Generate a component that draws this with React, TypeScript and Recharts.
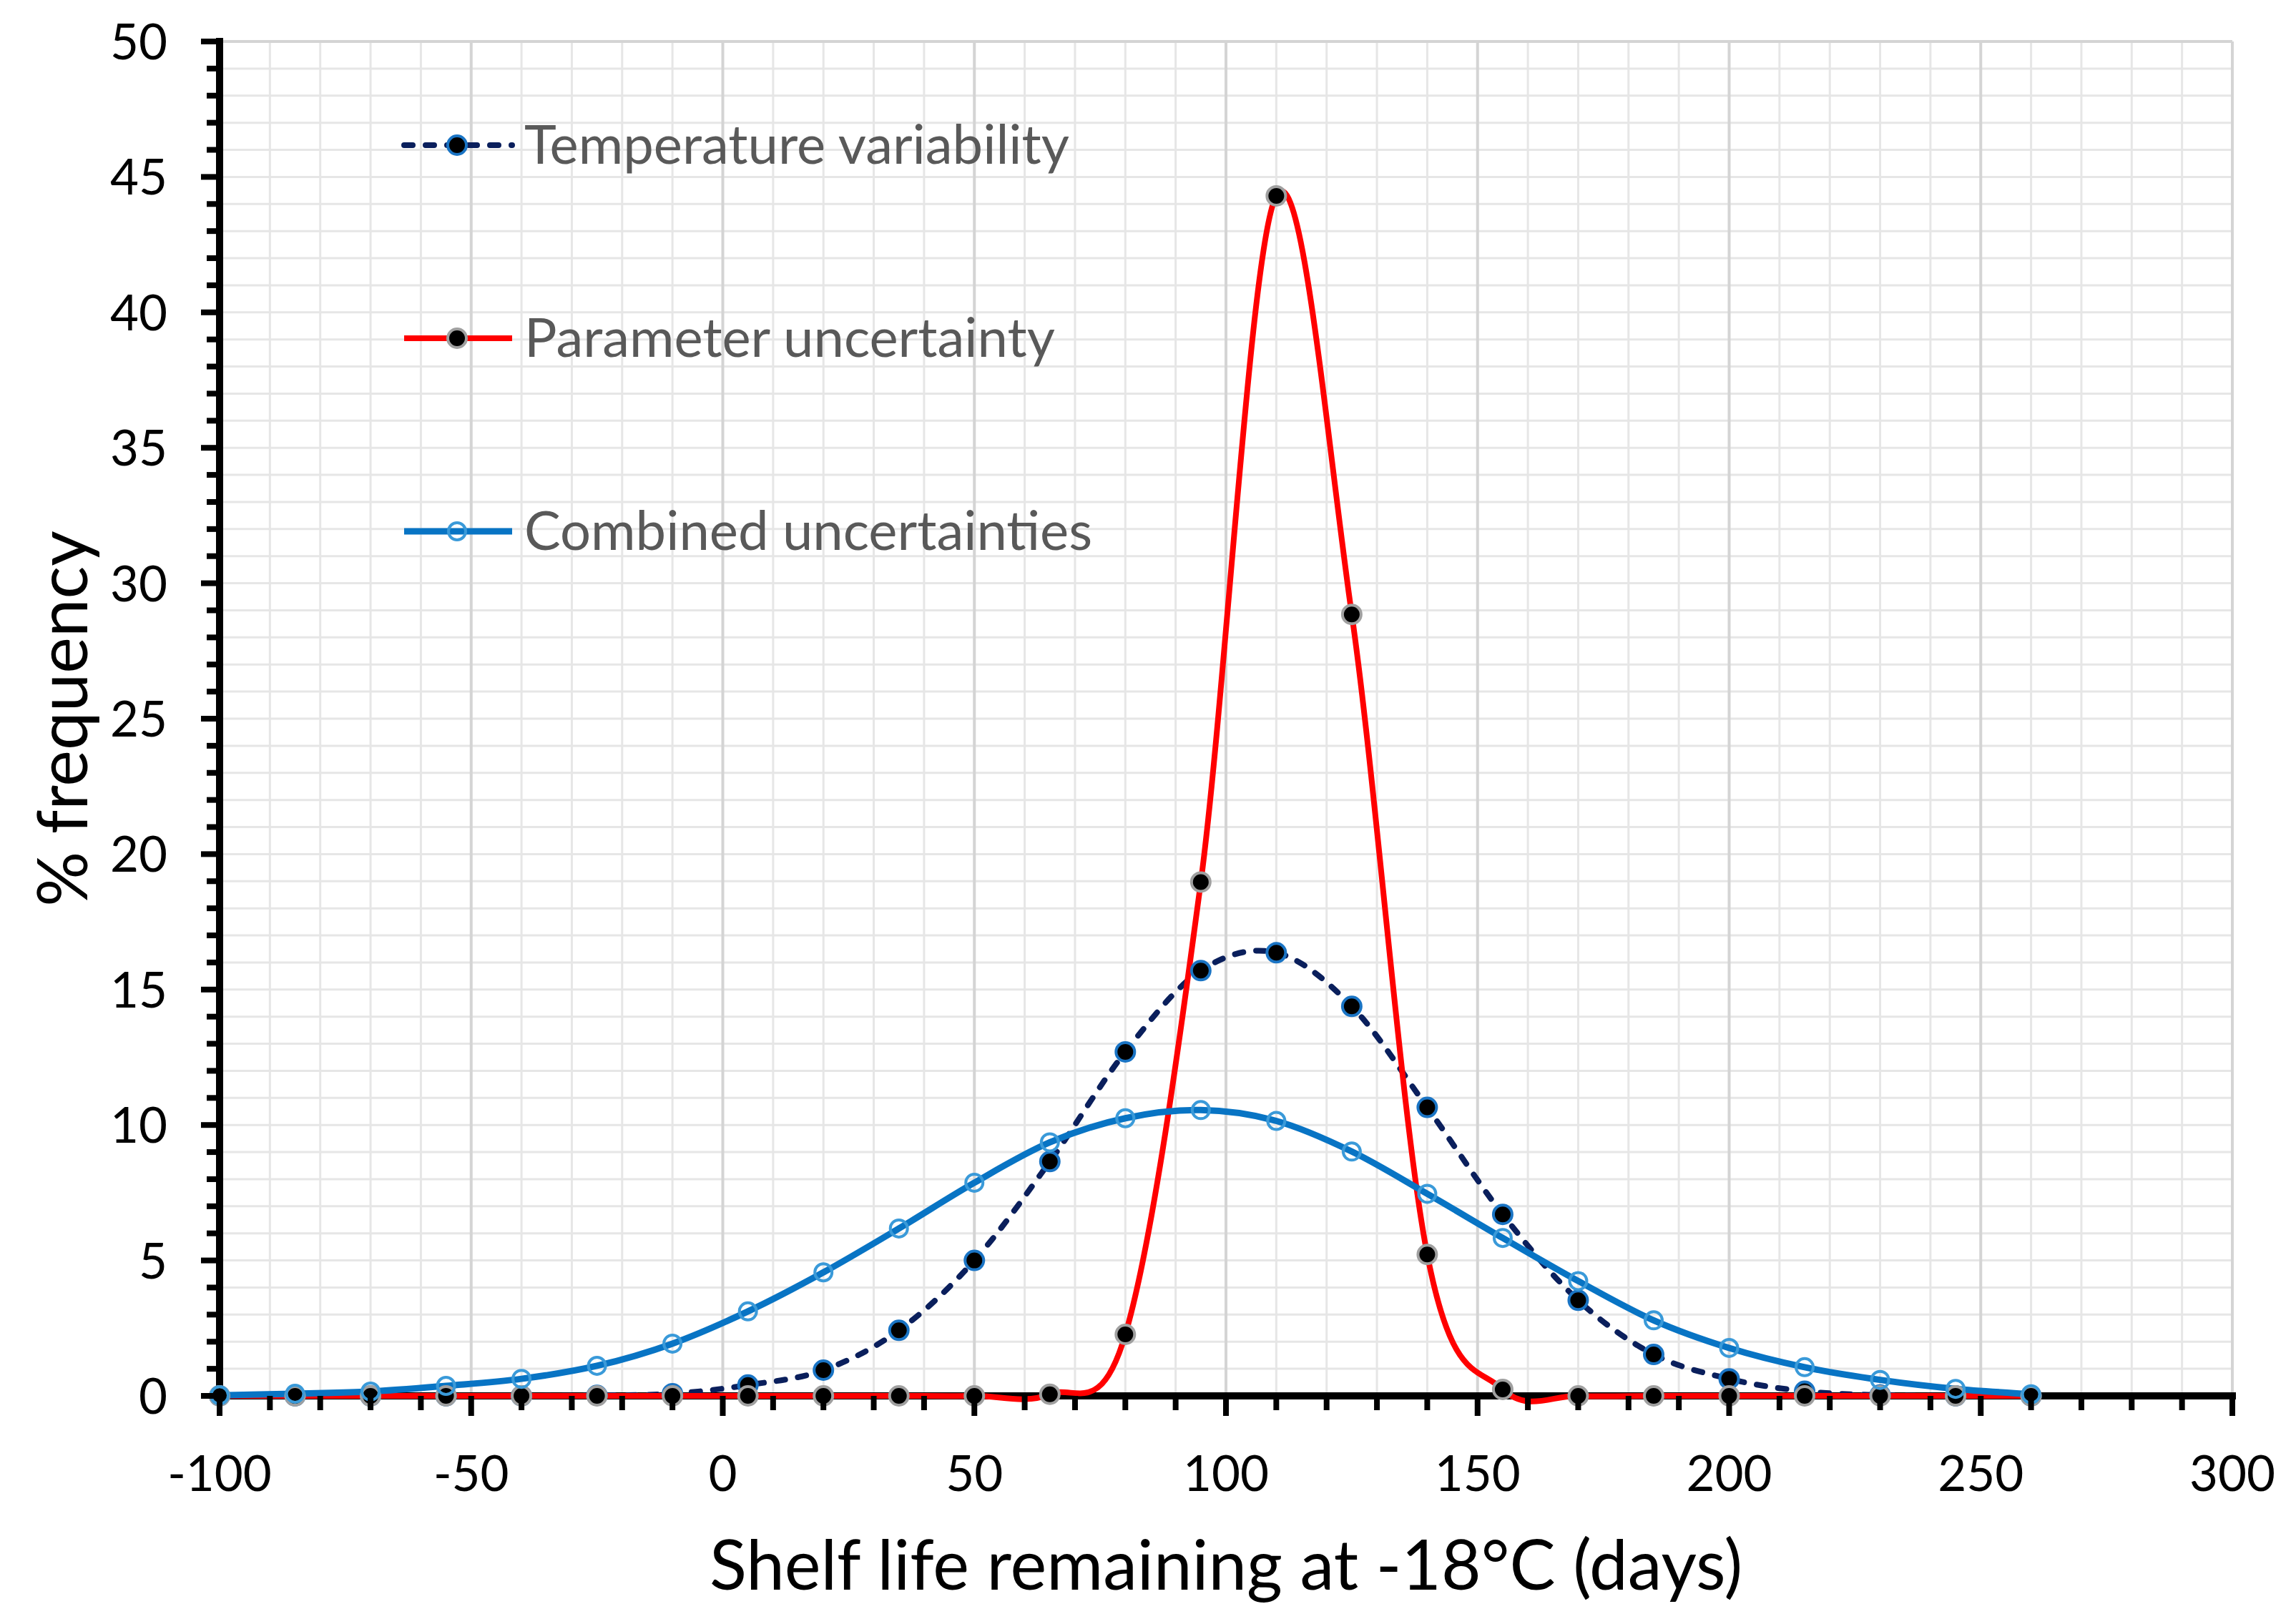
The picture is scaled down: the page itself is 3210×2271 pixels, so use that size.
import React from "react";
import {
  LineChart,
  Line,
  XAxis,
  YAxis,
  CartesianGrid,
  Legend,
  ReferenceLine,
} from "recharts";

// shelf life remaining (days) at -18°C
const shelfLife = [
  -100, -85, -70, -55, -40, -25, -10, 5, 20, 35, 50, 65, 80, 95, 110, 125, 140,
  155, 170, 185, 200, 215, 230, 245, 260,
];
const temperatureVariability = [
  0, 0, 0, 0, 0, 0.02, 0.08, 0.4, 0.95, 2.42, 5.0, 8.65, 12.7, 15.7, 16.36,
  14.38, 10.65, 6.7, 3.53, 1.53, 0.63, 0.17, 0.03, 0, 0,
];
const parameterUncertainty = [
  0, 0, 0, 0, 0, 0, 0, 0, 0, 0, 0, 0.06, 2.27, 18.97, 44.3, 28.85, 5.22, 0.24,
  0, 0, 0, 0, 0, 0, 0,
];
const combinedUncertainties = [
  0.02, 0.08, 0.16, 0.37, 0.63, 1.11, 1.93, 3.12, 4.56, 6.18, 7.87, 9.36,
  10.25, 10.55, 10.15, 9.02, 7.46, 5.83, 4.24, 2.79, 1.77, 1.06, 0.59, 0.26,
  0.06,
];

const xMajorTicks = [-100, -50, 0, 50, 100, 150, 200, 250, 300];
const xMinorTicks = Array.from({ length: 41 }, (_, i) => -100 + i * 10);
const yMajorTicks = [0, 5, 10, 15, 20, 25, 30, 35, 40, 45, 50];
const yMinorTicks = Array.from({ length: 51 }, (_, i) => i);

const data = shelfLife.map((x, i) => ({
  x,
  temp: temperatureVariability[i],
  param: parameterUncertainty[i],
  combined: combinedUncertainties[i],
}));

const FONT = "Lato, 'Open Sans', sans-serif";

// excel style smoothed line (bezier, tangent = (next - prev) / 6)
const excelCurve = (context: any) => {
  let pts: number[][] = [];
  return {
    areaStart() {},
    areaEnd() {},
    lineStart() {
      pts = [];
    },
    point(x: number, y: number) {
      pts.push([+x, +y]);
    },
    lineEnd() {
      const n = pts.length;
      if (!n) return;
      context.moveTo(pts[0][0], pts[0][1]);
      for (let i = 0; i < n - 1; i++) {
        const p0 = pts[Math.max(0, i - 1)];
        const p1 = pts[i];
        const p2 = pts[i + 1];
        const p3 = pts[Math.min(n - 1, i + 2)];
        context.bezierCurveTo(
          p1[0] + (p2[0] - p0[0]) / 6,
          p1[1] + (p2[1] - p0[1]) / 6,
          p2[0] - (p3[0] - p1[0]) / 6,
          p2[1] - (p3[1] - p1[1]) / 6,
          p2[0],
          p2[1]
        );
      }
    },
  };
};

const series = [
  {
    key: "temp",
    name: "Temperature variability",
    stroke: "#0a1f5c",
    width: 8,
    dash: "12 18",
    cap: "round",
    dot: { r: 13, fill: "#000", stroke: "#1a74c4", strokeWidth: 4 },
  },
  {
    key: "param",
    name: "Parameter uncertainty",
    stroke: "#ff0000",
    width: 8,
    dash: undefined,
    cap: "butt",
    dot: { r: 13, fill: "#000", stroke: "#a0a0a0", strokeWidth: 4 },
  },
  {
    key: "combined",
    name: "Combined uncertainties",
    stroke: "#0874c4",
    width: 9,
    dash: undefined,
    cap: "butt",
    dot: { r: 12, fill: "none", stroke: "#3a9ad9", strokeWidth: 4 },
  },
];

// tick line + label, drawn at the axis coordinate given by recharts
const XTick = ({ x, y, payload }: any) => {
  const major = payload.value % 50 === 0;
  return (
    <g>
      <line
        x1={x}
        x2={x}
        y1={y}
        y2={y + (major ? 28 : 20)}
        stroke="#000"
        strokeWidth={8}
      />
      {major && (
        <text
          x={x}
          y={y + 133}
          textAnchor="middle"
          fontSize={69}
          fontFamily={FONT}
          fill="#000"
        >
          {payload.value}
        </text>
      )}
    </g>
  );
};

const YTick = ({ x, y, payload }: any) => {
  const major = payload.value % 5 === 0;
  return (
    <g>
      <line
        x1={x - (major ? 26 : 18)}
        x2={x}
        y1={y}
        y2={y}
        stroke="#000"
        strokeWidth={8}
      />
      {major && (
        <text
          x={x - 73}
          y={y + 25}
          textAnchor="end"
          fontSize={69}
          fontFamily={FONT}
          fill="#000"
        >
          {payload.value}
        </text>
      )}
    </g>
  );
};

// thick black axis line
const AxisShape = (p: any) => (
  <line
    x1={p.x1}
    y1={p.y1}
    x2={p.x2}
    y2={p.y2}
    stroke="#000"
    strokeWidth={10}
    strokeLinecap="square"
  />
);

const LegendBox = () => (
  <svg width={1100} height={650} style={{ display: "block" }}>
    {series.map((s, i) => {
      const y = 53 + i * 270;
      return (
        <g key={s.key}>
          <line
            x1={25}
            x2={176}
            y1={y}
            y2={y}
            stroke={s.stroke}
            strokeWidth={s.width}
            strokeDasharray={s.dash}
            strokeLinecap={s.cap as any}
          />
          <circle cx={99} cy={y} {...s.dot} />
          <text
            x={193}
            y={y + 26}
            fontSize={76}
            fontFamily={FONT}
            fill="#595959"
          >
            {s.name}
          </text>
        </g>
      );
    })}
  </svg>
);

const YTitle = ({ viewBox }: any) => {
  const cx = viewBox.x + 64;
  const cy = viewBox.y + viewBox.height / 2;
  return (
    <text
      x={cx}
      y={cy}
      transform={`rotate(-90, ${cx}, ${cy})`}
      textAnchor="middle"
      dominantBaseline="central"
      fontSize={96}
      fontFamily={FONT}
      fill="#000"
    >
      % frequency
    </text>
  );
};

export default function App() {
  return (
    <div style={{ width: 3210, height: 2271, background: "#fff" }}>
      <style>{`body{margin:0}`}</style>
      <LineChart
        width={3210}
        height={2271}
        data={data}
        margin={{ top: 58, right: 89, left: 20, bottom: 219 }}
      >
        <CartesianGrid
          xAxisId="main"
          yAxisId="main"
          stroke="#e6e6e6"
          strokeWidth={3}
        />
        <CartesianGrid
          xAxisId="major"
          yAxisId="major"
          stroke="#d4d4d4"
          strokeWidth={4}
        />
        <XAxis
          xAxisId="main"
          dataKey="x"
          type="number"
          domain={[-100, 300]}
          ticks={xMinorTicks}
          interval={0}
          height={100}
          tickSize={0}
          tickMargin={0}
          axisLine={false}
          tickLine={false}
          tick={<XTick />}
          label={{
            value: "Shelf life remaining at -18°C (days)",
            position: "bottom",
            offset: 103,
            fontSize: 96,
            fontFamily: FONT,
            fill: "#000",
          }}
        />
        <XAxis
          xAxisId="major"
          dataKey="x"
          type="number"
          domain={[-100, 300]}
          ticks={xMajorTicks}
          interval={0}
          hide
        />
        <YAxis
          yAxisId="main"
          type="number"
          domain={[0, 50]}
          ticks={yMinorTicks}
          interval={0}
          width={287}
          tickSize={0}
          tickMargin={0}
          axisLine={false}
          tickLine={false}
          tick={<YTick />}
          label={{ content: <YTitle /> }}
        />
        <YAxis
          yAxisId="major"
          type="number"
          domain={[0, 50]}
          ticks={yMajorTicks}
          interval={0}
          hide
        />
        <ReferenceLine
          xAxisId="main"
          yAxisId="main"
          y={0}
          stroke="#000"
          strokeWidth={10}
          shape={AxisShape}
        />
        <ReferenceLine
          xAxisId="main"
          yAxisId="main"
          x={-100}
          stroke="#000"
          strokeWidth={10}
          shape={AxisShape}
        />
        <Legend
          layout="vertical"
          align="center"
          verticalAlign="middle"
          wrapperStyle={{ left: 540, top: 150, width: 1100, height: 650 }}
          content={() => <LegendBox />}
        />
        {series.map((s) => (
          <Line
            key={s.key}
            xAxisId="main"
            yAxisId="main"
            dataKey={s.key}
            name={s.name}
            type={excelCurve as any}
            stroke={s.stroke}
            strokeWidth={s.width}
            strokeDasharray={s.dash}
            strokeLinecap={s.cap as any}
            dot={{ ...s.dot, strokeDasharray: "none" }}
            activeDot={false}
            isAnimationActive={false}
            zIndex={600}
          />
        ))}
      </LineChart>
    </div>
  );
}
